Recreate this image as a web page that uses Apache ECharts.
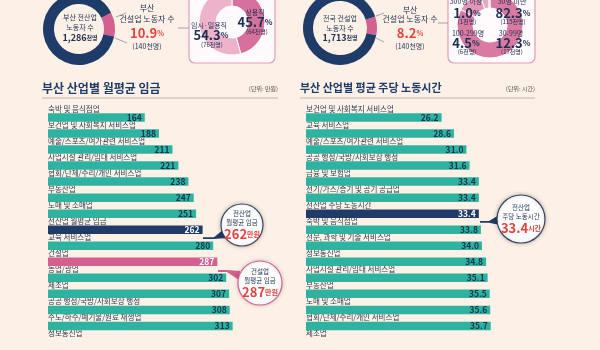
<!DOCTYPE html>
<html>
<head>
<meta charset="utf-8">
<script src="https://cdn.jsdelivr.net/npm/echarts@6/dist/echarts.min.js"></script>
<style>
html,body{margin:0;padding:0;background:#fdf1e7;}
#main{width:600px;height:350px;}
</style>
</head>
<body>
<div id="main"></div>
<script>
// 부산 산업별 월평균 임금 (단위: 만원)
var wageCats = ['숙박 및 음식점업','보건업 및 사회복지 서비스업','예술/스포츠/여가관련 서비스업','사업시설 관리/임대 서비스업',
    '협회/단체/수리/개인 서비스업','부동산업','도매 및 소매업','전산업 월평균 임금','교육 서비스업','건설업',
    '농업/광업','제조업','공공 행정/국방/사회보장 행정','수도/하수/폐기물/원료 재생업','정보통신업'];
var wageVals = [164,188,211,221,238,247,251,262,280,287,302,307,308,313,null];

// 부산 산업별 평균 주당 노동시간 (단위: 시간)
var hourCats = ['보건업 및 사회복지 서비스업','교육 서비스업','예술/스포츠/여가관련 서비스업','공공 행정/국방/사회보장 행정',
    '금융 및 보험업','전기/가스/증기 및 공기 공급업','전산업 주당 노동시간','숙박 및 음식점업','전문, 과학 및 기술 서비스업',
    '정보통신업','사업시설 관리/임대 서비스업','부동산업','도매 및 소매업','협회/단체/수리/개인 서비스업','제조업'];
var hourVals = [26.2,28.6,31.0,31.6,33.4,33.4,33.4,33.8,34.0,34.8,35.1,35.5,35.6,35.7,null];

// 노동자 수 (천명)
var busanAll = 1286, nationCon = 1713, busanCon = 140;
var empType = [{name:'상용직', value:64}, {name:'임시·일용직', value:76}];
var empSize = [{name:'30명 미만', value:115}, {name:'30-99명', value:17}, {name:'100-299명', value:6}, {name:'300명 이상', value:1}];

var TEAL = '#2db3a0', NAVY = '#1f3c68', PINK = '#d3608f', RED = '#e8403a', INK = '#1c2f4f';
var FONT = '"Noto Sans CJK KR", sans-serif';

function barData(vals, cats, navyName, pinkName) {
    var arr = [];
    for (var i = 0; i < vals.length; i++) {
        var c = TEAL, lc = INK;
        if (cats[i] == navyName) { c = NAVY; lc = '#fff'; }
        if (cats[i] == pinkName) { c = PINK; lc = '#fff'; }
        arr.push({value: vals[i], itemStyle: {color: c}, label: {color: lc}});
    }
    return arr;
}

var rowH = 17.15;
var gridTop = 118 - rowH / 2;

function catAxis(idx, cats) {
    return {
        type: 'category', gridIndex: idx, data: cats, inverse: true,
        axisLine: {show: false}, axisTick: {show: false},
        axisLabel: {inside: true, margin: 0, interval: 0, align: 'left', verticalAlign: 'bottom',
            padding: [0, 0, 5, 0], fontSize: 7.5, color: '#2b3a52', fontFamily: FONT}
    };
}

function valLabel(digits) {
    return {
        show: true, position: 'insideRight', distance: 3, fontSize: 8.5, fontWeight: 'bold', fontFamily: FONT,
        formatter: function (p) { return p.value == null ? '' : p.value.toFixed(digits); }
    };
}

function txt(x, y, t, size, color, bold, rich) {
    return {type: 'text', x: x, y: y, z: 100, silent: true, style: {
        text: t, fill: color || INK, font: (bold ? 'bold ' : '') + size + 'px ' + FONT,
        align: 'center', verticalAlign: 'middle', textAlign: 'center', textVerticalAlign: 'middle', rich: rich
    }};
}
var richR = {a: {fontSize: 13, fontWeight: 'bold', fill: RED, fontFamily: FONT}, b: {fontSize: 7, fontWeight: 'bold', fill: RED, fontFamily: FONT}};
var richN = {a: {fontSize: 9, fontWeight: 'bold', fill: INK, fontFamily: FONT}, b: {fontSize: 6, fontWeight: 'bold', fill: INK, fontFamily: FONT}};
var richP = {a: {fontSize: 13, fontWeight: 'bold', fill: INK, fontFamily: FONT}, b: {fontSize: 8, fontWeight: 'bold', fill: INK, fontFamily: FONT}};

var myChart = echarts.init(document.getElementById('main'));
var option = {
    backgroundColor: '#fdf1e7',
    animation: false,
    grid: [
        {left: 48, top: gridTop, width: 236, height: rowH * 15},
        {left: 306, top: gridTop, width: 207, height: rowH * 15}
    ],
    xAxis: [
        {type: 'value', gridIndex: 0, min: 0, max: 400, show: false},
        {type: 'value', gridIndex: 1, min: 0, max: 40, show: false}
    ],
    yAxis: [catAxis(0, wageCats), catAxis(1, hourCats)],
    series: [
        {type: 'bar', xAxisIndex: 0, yAxisIndex: 0, barWidth: 8.5, data: barData(wageVals, wageCats, '전산업 월평균 임금', '건설업'), label: valLabel(0), silent: true},
        {type: 'bar', xAxisIndex: 1, yAxisIndex: 1, barWidth: 8.5, data: barData(hourVals, hourCats, '전산업 주당 노동시간', ''), label: valLabel(1), silent: true},
        {type: 'pie', center: [79, 29], radius: [25, 36], startAngle: 27, silent: true, label: {show: false},
            data: [{name: '부산 건설업', value: busanCon, itemStyle: {color: PINK}}, {name: '기타', value: busanAll - busanCon, itemStyle: {color: NAVY}}]},
        {type: 'pie', center: [340, 28], radius: [27, 37], startAngle: 18, silent: true, label: {show: false},
            data: [{name: '부산 건설업', value: busanCon, itemStyle: {color: PINK}}, {name: '기타', value: nationCon - busanCon, itemStyle: {color: NAVY}}]},
        {type: 'pie', center: [232, 22], radius: [16, 33], startAngle: 90, silent: true, label: {show: false},
            itemStyle: {borderColor: '#fff', borderWidth: 1}, color: ['#d8709c', '#efb2cb'], data: empType},
        {type: 'pie', center: [490, 25], radius: [17, 33], startAngle: 90, silent: true, label: {show: false},
            itemStyle: {borderColor: '#fff', borderWidth: 1}, color: ['#d97aa2', '#e596b6', '#eaa9c3', '#f0bfd2'], data: empSize}
    ],
    graphic: [
        // 상단 박스
        {type: 'rect', z: -1, shape: {x: 189, y: -10, width: 86, height: 73, r: 6}, style: {fill: '#fffafc', stroke: '#e79ab9', lineWidth: 1.2}},
        {type: 'rect', z: -1, shape: {x: 448, y: -10, width: 87, height: 73, r: 6}, style: {fill: '#fffafc', stroke: '#e79ab9', lineWidth: 1.2}},
        // 도넛 지시선
        {type: 'polyline', shape: {points: [[116, 17], [126, 13]]}, style: {stroke: '#8a8f9c', lineWidth: 0.8}},
        {type: 'polyline', shape: {points: [[115, 38], [127, 43]]}, style: {stroke: '#8a8f9c', lineWidth: 0.8}},
        {type: 'polyline', shape: {points: [[178, 28], [189, 28]]}, style: {stroke: '#8a8f9c', lineWidth: 0.8}},
        {type: 'polyline', shape: {points: [[376, 16], [384, 13]]}, style: {stroke: '#8a8f9c', lineWidth: 0.8}},
        {type: 'polyline', shape: {points: [[376, 38], [384, 42]]}, style: {stroke: '#8a8f9c', lineWidth: 0.8}},
        {type: 'polyline', shape: {points: [[438, 23], [448, 23]]}, style: {stroke: '#8a8f9c', lineWidth: 0.8}},
        txt(80, 17, '부산 전산업', 7), txt(80, 27, '노동자 수', 7), txt(80, 38, '{a|1,286}{b|천명}', 9, INK, true, richN),
        txt(147, 8, '부산', 8), txt(147, 19, '건설업 노동자 수', 8), txt(147, 33, '{a|10.9}{b|%}', 14, RED, true, richR), txt(147, 46, '(140천명)', 7),
        txt(340, 18, '전국 건설업', 7), txt(340, 28, '노동자 수', 7), txt(340, 38, '{a|1,713}{b|천명}', 9, INK, true, richN),
        txt(410, 10, '부산', 8), txt(410, 19, '건설업 노동자 수', 8), txt(410, 33, '{a|8.2}{b|%}', 14, RED, true, richR), txt(410, 46, '(140천명)', 7),
        txt(255, 12, '상용직', 7), txt(255, 22, '{a|45.7}{b|%}', 13, INK, true, richP), txt(257, 32, '(64천명)', 6),
        txt(209, 25, '임시·일용직', 7), txt(211, 35, '{a|54.3}{b|%}', 13, INK, true, richP), txt(212, 45, '(76천명)', 6),
        txt(466, 1, '300명 이상', 7), txt(467, 13, '{a|1.0}{b|%}', 13, INK, true, richP), txt(467, 22, '(1천명)', 6),
        txt(512, 1, '30명 미만', 7), txt(513, 13, '{a|82.3}{b|%}', 13, INK, true, richP), txt(513, 22, '(115천명)', 6),
        txt(468, 33, '100-299명', 7), txt(466, 43, '{a|4.5}{b|%}', 13, INK, true, richP), txt(467, 52, '(6천명)', 6),
        txt(511, 33, '30-99명', 7), txt(513, 43, '{a|12.3}{b|%}', 13, INK, true, richP), txt(512, 52, '(17천명)', 6),
        // 제목
        {type: 'text', x: 42, y: 88, style: {text: '부산 산업별 월평균 임금', fill: NAVY, font: 'bold 12px ' + FONT, verticalAlign: 'middle', textVerticalAlign: 'middle'}},
        {type: 'text', x: 278, y: 89, style: {text: '(단위: 만원)', fill: '#555', font: '6px ' + FONT, align: 'right', textAlign: 'right', verticalAlign: 'middle', textVerticalAlign: 'middle'}},
        {type: 'line', shape: {x1: 42, y1: 98, x2: 278, y2: 98}, style: {stroke: '#bdb6ae', lineWidth: 1}},
        {type: 'text', x: 300, y: 88, style: {text: '부산 산업별 평균 주당 노동시간', fill: NAVY, font: 'bold 11px ' + FONT, verticalAlign: 'middle', textVerticalAlign: 'middle'}},
        {type: 'text', x: 535, y: 89, style: {text: '(단위: 시간)', fill: '#555', font: '6px ' + FONT, align: 'right', textAlign: 'right', verticalAlign: 'middle', textVerticalAlign: 'middle'}},
        {type: 'line', shape: {x1: 300, y1: 98, x2: 535, y2: 98}, style: {stroke: '#bdb6ae', lineWidth: 1}},
        // 말풍선
        {type: 'polygon', z: 50, shape: {points: [[203, 237.3], [214, 237.3], [224, 229], [227, 238], [214, 239], [203, 239]]}, style: {fill: NAVY}},
        {type: 'circle', z: 50, shape: {cx: 242, cy: 225, r: 21}, style: {fill: '#fff', stroke: '#34465f', lineWidth: 1.2, shadowBlur: 4, shadowColor: 'rgba(0,0,0,0.25)'}},
        txt(242, 214, '전산업', 6.5), txt(242, 223, '월평균 임금', 6.5), txt(242, 234, '{a|262}{b|만원}', 13, RED, true, richR),
        {type: 'polygon', z: 50, shape: {points: [[218, 270], [227, 270], [240, 271], [239, 280], [227, 272], [218, 272]]}, style: {fill: PINK}},
        {type: 'circle', z: 50, shape: {cx: 260, cy: 283, r: 22}, style: {fill: '#fff', stroke: PINK, lineWidth: 1.2, shadowBlur: 4, shadowColor: 'rgba(0,0,0,0.2)'}},
        txt(260, 272, '건설업', 6.5), txt(260, 281, '월평균 임금', 6.5), txt(260, 292, '{a|287}{b|만원}', 13, RED, true, richR),
        {type: 'polygon', z: 50, shape: {points: [[480, 221], [489, 221], [499, 215], [500, 225], [489, 222.7], [480, 222.7]]}, style: {fill: NAVY}},
        {type: 'circle', z: 50, shape: {cx: 521, cy: 219, r: 24}, style: {fill: '#fff', stroke: '#34465f', lineWidth: 1.2, shadowBlur: 4, shadowColor: 'rgba(0,0,0,0.25)'}},
        txt(521, 208, '전산업', 6.5), txt(521, 217, '주당 노동시간', 6.5), txt(521, 228, '{a|33.4}{b|시간}', 13, RED, true, richR)
    ]
};
myChart.setOption(option);
</script>
</body>
</html>
